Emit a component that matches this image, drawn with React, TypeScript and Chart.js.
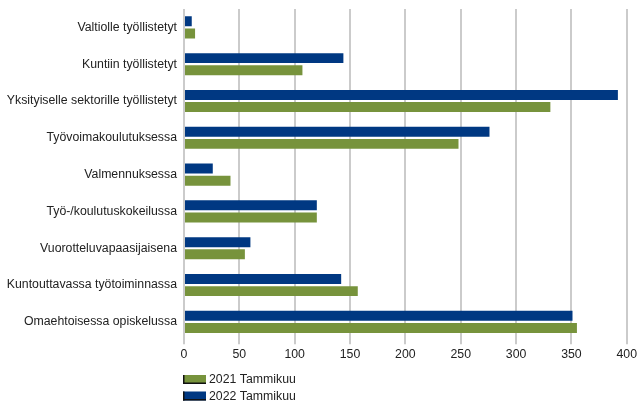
import React, { useEffect, useRef } from "react";
import { Chart, registerables } from "chart.js";

Chart.register(...registerables);

const categories = [
  "Valtiolle työllistetyt",
  "Kuntiin työllistetyt",
  "Yksityiselle sektorille työllistetyt",
  "Työvoimakoulutuksessa",
  "Valmennuksessa",
  "Työ-/koulutuskokeilussa",
  "Vuorotteluvapaasijaisena",
  "Kuntouttavassa työtoiminnassa",
  "Omaehtoisessa opiskelussa",
];
const values2022 = [7, 144, 392, 276, 26, 120, 60, 142, 351];
const values2021 = [10, 107, 331, 248, 42, 120, 55, 157, 355];
const label2022 = "2022 Tammikuu";
const label2021 = "2021 Tammikuu";
const xTicks = [0, 50, 100, 150, 200, 250, 300, 350, 400];

const BLUE = "#003882";
const GREEN = "#77933C";
const FONT = "'Liberation Sans', Arial, sans-serif";
const TEXT = "#222222";

const legendPlugin = {
  id: "bottomLegend",
  afterDraw(chart: any) {
    const ctx = chart.ctx;
    const items = [...chart.data.datasets].reverse();
    const x0 = chart.chartArea.left - 1;
    ctx.save();
    ctx.font = `12.3px ${FONT}`;
    ctx.textBaseline = "middle";
    ctx.textAlign = "left";
    items.forEach((ds: any, i: number) => {
      const yc = 379.5 + i * 16.5;
      const top = yc - 4.5;
      ctx.fillStyle = ds.backgroundColor;
      ctx.fillRect(x0, top, 23, 9);
      ctx.fillStyle = "#111";
      ctx.fillRect(x0, top, 1.5, 9);
      ctx.fillRect(x0, top + 7.5, 23, 1.5);
      ctx.fillStyle = TEXT;
      ctx.fillText(ds.label, x0 + 26, yc + 0.5);
    });
    ctx.restore();
  },
};

export default function App() {
  const ref = useRef<HTMLCanvasElement | null>(null);
  useEffect(() => {
    if (!ref.current) return;
    const chart = new Chart(ref.current, {
      type: "bar",
      data: {
        labels: categories,
        datasets: [
          {
            label: label2022,
            data: values2022,
            backgroundColor: BLUE,
            categoryPercentage: 0.66,
            barPercentage: 0.82,
          },
          {
            label: label2021,
            data: values2021,
            backgroundColor: GREEN,
            categoryPercentage: 0.66,
            barPercentage: 0.82,
          },
        ],
      },
      options: {
        indexAxis: "y",
        animation: false,
        responsive: true,
        maintainAspectRatio: false,
        layout: { padding: { top: 9, bottom: 38, left: 0, right: 0 } },
        plugins: {
          legend: { display: false },
          tooltip: { enabled: false },
        },
        scales: {
          x: {
            type: "linear",
            min: 0,
            max: 400,
            afterBuildTicks: (scale: any) => {
              scale.ticks = xTicks.map((v) => ({ value: v }));
            },
            grid: {
              color: "#cbcbcb",
              lineWidth: 2,
              drawTicks: true,
              tickLength: 4,
            },
            border: { display: false },
            ticks: {
              color: TEXT,
              font: { family: FONT, size: 12.3 },
              padding: 3,
              maxRotation: 0,
            },
          },
          y: {
            type: "category",
            grid: { display: false, drawTicks: false },
            border: { display: false },
            ticks: {
              color: TEXT,
              font: { family: FONT, size: 12.3 },
              padding: 7,
            },
            afterFit: (scale: any) => {
              scale.width = 184;
              scale.paddingTop = 0;
              scale.paddingBottom = 0;
            },
          },
        },
      },
      plugins: [legendPlugin],
    } as any);
    return () => chart.destroy();
  }, []);
  return (
    <div
      style={{
        position: "fixed",
        left: 0,
        top: 0,
        width: 637,
        height: 403,
        overflow: "hidden",
        background: "#fff",
      }}
    >
      <div style={{ position: "relative", width: 640, height: 403 }}>
        <canvas ref={ref} />
      </div>
    </div>
  );
}
